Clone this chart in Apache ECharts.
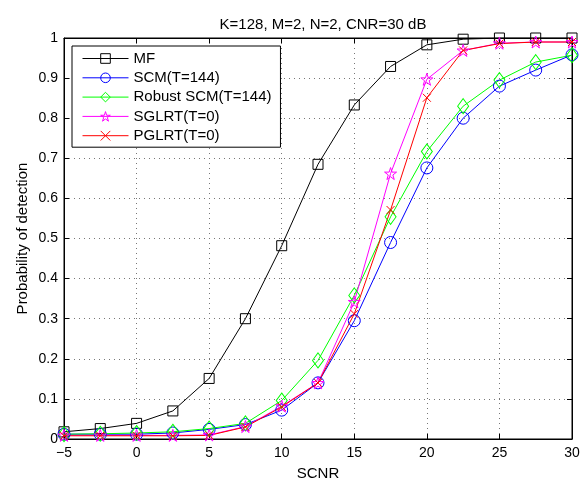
<!DOCTYPE html>
<html>
<head>
<meta charset="utf-8">
<script src="https://cdn.jsdelivr.net/npm/echarts@6/dist/echarts.min.js"></script>
<style>html,body{margin:0;padding:0;background:#fff;}#c{width:585px;height:479px;}</style>
</head>
<body>
<div id="c"></div>
<script>
var scnr = [-5, -2.5, 0, 2.5, 5, 7.5, 10, 12.5, 15, 17.5, 20, 22.5, 25, 27.5, 30];
var mf        = [0.018, 0.026, 0.039, 0.070, 0.151, 0.300, 0.482, 0.685, 0.833, 0.929, 0.983, 0.997, 1.0, 1.0, 1.0];
var scm       = [0.012, 0.012, 0.012, 0.015, 0.024, 0.036, 0.072, 0.140, 0.295, 0.490, 0.676, 0.800, 0.880, 0.920, 0.958];
var robustScm = [0.012, 0.013, 0.015, 0.018, 0.026, 0.039, 0.096, 0.196, 0.358, 0.554, 0.717, 0.830, 0.895, 0.940, 0.957];
var sglrt     = [0.009, 0.009, 0.009, 0.009, 0.010, 0.031, 0.082, 0.140, 0.342, 0.662, 0.897, 0.969, 0.987, 0.990, 0.990];
var pglrt     = [0.008, 0.008, 0.008, 0.008, 0.009, 0.030, 0.080, 0.140, 0.312, 0.571, 0.851, 0.969, 0.986, 0.990, 0.990];
var names = ['MF', 'SCM(T=144)', 'Robust SCM(T=144)', 'SGLRT(T=0)', 'PGLRT(T=0)'];
var yTicks = [0, 0.1, 0.2, 0.3, 0.4, 0.5, 0.6, 0.7, 0.8, 0.9, 1];
var xTicks = [-5, 0, 5, 10, 15, 20, 25, 30];

var FONT = '"Liberation Sans", Arial, Helvetica, sans-serif';
var starPath = 'path://M50,0L61.23,34.55L97.55,34.55L68.17,55.9L79.39,90.45L50,69.1L20.61,90.45L31.83,55.9L2.45,34.55L38.77,34.55Z';
var crossPath = 'path://M0,0L10,10M10,0L0,10';
var squarePath = 'path://M0,0L10,0L10,10L0,10Z';
var diamondPath = 'path://M5,0L10,7L5,14L0,7Z';
var circlePath = 'circle';

function pairs(ys) { return scnr.map(function (x, i) { return [x, ys[i]]; }); }

function mk(name, ys, color, symbol, size) {
  return {
    name: name, type: 'line', data: pairs(ys),
    symbol: symbol, symbolSize: size, showAllSymbol: true,
    lineStyle: { color: color, width: 1 },
    itemStyle: { color: 'rgba(0,0,0,0)', borderColor: color, borderWidth: 1 },
    emphasis: { disabled: true },
    animation: false, z: 3
  };
}

var chart = echarts.init(document.getElementById('c'), null, { renderer: 'canvas' });
chart.setOption({
  backgroundColor: '#fff',
  animation: false,
  title: {
    text: 'K=128, M=2, N=2, CNR=30 dB',
    left: 318, textAlign: 'center', top: 12,
    textStyle: { fontFamily: FONT, fontSize: 15, fontWeight: 'normal', color: '#000' }
  },
  grid: { left: 64, right: 13, top: 38, bottom: 40, show: true, borderColor: '#000', borderWidth: 1, backgroundColor: 'transparent', containLabel: false, outerBoundsMode: 'none' },
  legend: {
    data: names,
    orient: 'vertical', left: 72, top: 46,
    backgroundColor: '#fff', borderColor: '#000', borderWidth: 1,
    padding: [5, 9, 4, 10],
    itemWidth: 46, itemHeight: 12, itemGap: 4.3,
    lineStyle: { width: 1 },
    itemStyle: { borderWidth: 1 },
    textStyle: { fontFamily: FONT, fontSize: 15, lineHeight: 14, color: '#000', padding: [0, 0, 0, 0] },
    selectedMode: false
  },
  xAxis: [{
    type: 'value', min: -5, max: 30, interval: 5,
    name: 'SCNR', nameLocation: 'middle', nameGap: 27, nameMoveOverlap: false,
    nameTextStyle: { fontFamily: FONT, fontSize: 15, color: '#000' },
    axisLine: { show: true, onZero: false, lineStyle: { color: '#000', width: 1 } },
    axisTick: { show: true, inside: true, length: 5, lineStyle: { color: '#000' } },
    axisLabel: { fontFamily: FONT, fontSize: 14, color: '#000', margin: 7,
      formatter: function (v) { return xTicks.indexOf(v) >= 0 ? String(v).replace('-', '\u2212') : ''; } },
    splitLine: { show: true, lineStyle: { color: '#777', type: [1, 4], width: 1 } }
  }, {
    type: 'value', min: -5, max: 30, interval: 5, position: 'top',
    axisLine: { show: true, onZero: false, lineStyle: { color: '#000' } },
    axisTick: { show: true, inside: true, length: 5, lineStyle: { color: '#000' } },
    axisLabel: { show: false }, splitLine: { show: false }
  }],
  yAxis: [{
    type: 'value', min: 0, max: 1, interval: 0.1,
    name: 'Probability of detection', nameLocation: 'middle', nameGap: 34, nameMoveOverlap: false,
    nameTextStyle: { fontFamily: FONT, fontSize: 15, color: '#000' },
    axisLine: { show: true, onZero: false, lineStyle: { color: '#000', width: 1 } },
    axisTick: { show: true, inside: true, length: 5, lineStyle: { color: '#000' } },
    axisLabel: { fontFamily: FONT, fontSize: 14, color: '#000', margin: 6,
      formatter: function (v) { var r = Math.round(v * 10) / 10; return yTicks.indexOf(r) >= 0 ? String(r) : ''; } },
    splitLine: { show: true, lineStyle: { color: '#777', type: [1, 4], width: 1 } }
  }, {
    type: 'value', min: 0, max: 1, interval: 0.1, position: 'right',
    axisLine: { show: true, onZero: false, lineStyle: { color: '#000' } },
    axisTick: { show: true, inside: true, length: 5, lineStyle: { color: '#000' } },
    axisLabel: { show: false }, splitLine: { show: false }
  }],
  series: [
    mk(names[0], mf, '#000000', squarePath, 10),
    mk(names[1], scm, '#0000ff', circlePath, 12),
    mk(names[2], robustScm, '#00ff00', diamondPath, [11, 15]),
    mk(names[3], sglrt, '#ff00ff', starPath, 12),
    mk(names[4], pglrt, '#ff0000', crossPath, 8)
  ]
});
</script>
</body>
</html>
